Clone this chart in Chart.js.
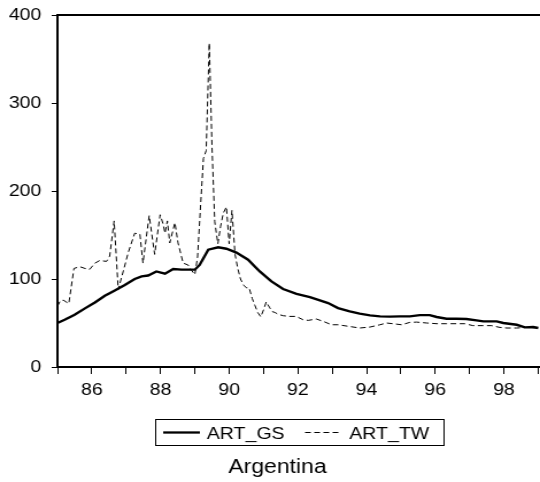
<!DOCTYPE html>
<html>
<head>
<meta charset="utf-8">
<script src="https://cdn.jsdelivr.net/npm/chart.js@4.4.1/dist/chart.umd.min.js"></script>
<style>
  html, body { margin: 0; padding: 0; background: #fff; }
  /* the original graph is a 470px wide export stretched to 540px */
  #artChart { width: 540px; height: 482px; display: block; }
</style>
</head>
<body>
<canvas id="artChart" width="470" height="482" style="width:540px;height:482px"></canvas>
<script>
// Argentina, readings
const gsYears = [1985.00, 1985.21, 1985.50, 1985.80, 1986.09, 1986.38, 1986.67, 1986.96, 1987.25, 1987.45,
  1987.64, 1987.88, 1988.13, 1988.37, 1988.61, 1988.90, 1989.00, 1989.14, 1989.39, 1989.68,
  1989.92, 1990.21, 1990.55, 1990.89, 1991.23, 1991.57, 1991.96, 1992.35, 1992.64, 1992.88,
  1993.17, 1993.51, 1993.80, 1994.10, 1994.39, 1994.68, 1994.97, 1995.26, 1995.55, 1995.84,
  1996.04, 1996.33, 1996.62, 1996.91, 1997.20, 1997.40, 1997.79, 1997.98, 1998.37, 1998.61,
  1998.85, 1999.00];
const gsValues = [50, 53.7, 59.4, 66.6, 73.4, 81, 87, 93.2, 100, 103,
  104, 108.6, 106, 111.4, 110.6, 110.6, 110.6, 116, 133.3, 136,
  134.4, 130, 122, 108.6, 97.3, 88.6, 83, 79.5, 75.7, 72.7,
  67, 63.2, 60.6, 58.6, 57.5, 57.2, 57.5, 57.5, 59, 59,
  56.8, 54.9, 54.9, 54.5, 53, 51.8, 51.8, 50, 48, 45,
  45.4, 44.3];

const twYears = [1985.00, 1985.08, 1985.17, 1985.33, 1985.48, 1985.65, 1985.80, 1985.94, 1986.09, 1986.23,
  1986.43, 1986.52, 1986.65, 1986.77, 1986.91, 1987.06, 1987.25, 1987.40, 1987.49, 1987.67,
  1987.83, 1987.99, 1988.08, 1988.13, 1988.20, 1988.27, 1988.42, 1988.51, 1988.66, 1988.80,
  1988.90, 1989.00, 1989.08, 1989.17, 1989.25, 1989.33, 1989.42, 1989.50, 1989.58, 1989.67,
  1989.75, 1989.83, 1989.92, 1990.00, 1990.08, 1990.17, 1990.25, 1990.33, 1990.42, 1990.50,
  1990.58, 1990.67, 1990.75, 1990.83, 1990.92, 1991.00, 1991.08, 1991.17, 1991.25, 1991.33,
  1991.42, 1991.57, 1991.75, 1991.95, 1992.15, 1992.30, 1992.54, 1992.74, 1992.98, 1993.17,
  1993.51, 1993.80, 1994.10, 1994.39, 1994.58, 1994.83, 1995.02, 1995.26, 1995.46, 1995.75,
  1996.04, 1996.33, 1996.62, 1996.86, 1997.10, 1997.40, 1997.64, 1997.88, 1998.08, 1998.37,
  1998.67, 1998.96];
const twValues = [69, 75, 76, 72, 112, 114, 112, 111, 118, 121,
  120, 126, 166, 88, 108, 130, 152, 151, 118, 172,
  128, 173, 162, 152, 166, 141, 164, 141, 118, 116,
  110, 105, 125, 185, 237, 246, 368, 250, 165, 140,
  160, 175, 182, 140, 178, 128, 112, 100, 93, 90,
  90, 78, 70, 62, 57, 65, 74, 68, 63, 62,
  60, 58.3, 57.5, 57.5, 53.7, 53, 54.5, 51.8, 48, 48,
  46, 44.3, 45.4, 48, 50, 48.9, 48, 50.7, 51, 50,
  49.2, 49.2, 49.2, 49.2, 47, 47, 47, 45, 44.3, 44.3,
  45, 44.3];

const xTickYears = [1985, 1986, 1987, 1988, 1989, 1990, 1991, 1992, 1993, 1994, 1995, 1996, 1997, 1998, 1999];
const xTickLabels = ['', '86', '', '88', '', '90', '', '92', '', '94', '', '96', '', '98', ''];
const yTicks = [0, 100, 200, 300, 400];

const seriesNames = ['ART_GS', 'ART_TW'];
const chartTitle = 'Argentina';

const FONT = "'Liberation Sans', Arial, sans-serif";

const toPoints = (xs, ys) => xs.map((x, i) => ({ x: x, y: ys[i] }));

// top frame line, boxed legend and the caption underneath
const framePlugin = {
  id: 'frame',
  afterDraw(chart) {
    const ctx = chart.ctx;
    const area = chart.chartArea;
    ctx.save();
    ctx.strokeStyle = '#000';
    ctx.fillStyle = '#000';
    ctx.lineWidth = 2;
    ctx.beginPath();
    ctx.moveTo(area.left - 1, area.top);
    ctx.lineTo(area.right, area.top);
    ctx.stroke();

    // legend box
    ctx.lineWidth = 1;
    ctx.strokeRect(135.5, 419.5, 251, 26);
    ctx.font = '17px ' + FONT;
    ctx.textBaseline = 'alphabetic';
    ctx.textAlign = 'left';

    ctx.lineWidth = 2.3;
    ctx.beginPath();
    ctx.moveTo(142, 432.5);
    ctx.lineTo(174, 432.5);
    ctx.stroke();
    ctx.fillText(seriesNames[0], 180, 439);

    ctx.lineWidth = 1;
    ctx.setLineDash([5, 3]);
    ctx.beginPath();
    ctx.moveTo(265.5, 432.5);
    ctx.lineTo(295.5, 432.5);
    ctx.stroke();
    ctx.setLineDash([]);
    ctx.fillText(seriesNames[1], 304, 439);

    ctx.font = '20px ' + FONT;
    ctx.textAlign = 'center';
    ctx.fillText(chartTitle, 241.5, 473);
    ctx.restore();
  }
};

new Chart(document.getElementById('artChart'), {
  type: 'line',
  data: {
    datasets: [
      {
        label: seriesNames[0],
        data: toPoints(gsYears, gsValues),
        borderColor: '#000',
        borderWidth: 2.4,
        pointRadius: 0,
        tension: 0,
        fill: false
      },
      {
        label: seriesNames[1],
        data: toPoints(twYears, twValues),
        borderColor: '#000',
        borderWidth: 1,
        borderDash: [5, 3],
        pointRadius: 0,
        tension: 0,
        fill: false
      }
    ]
  },
  options: {
    responsive: false,
    animation: false,
    devicePixelRatio: 1,
    layout: { padding: { top: 15, right: 0, bottom: 0, left: 0 } },
    plugins: {
      legend: { display: false },
      title: { display: false },
      tooltip: { enabled: false }
    },
    scales: {
      x: {
        type: 'linear',
        min: 1985,
        max: 1999.05,
        afterFit: (scale) => {
          scale.height = 115;
          scale.paddingLeft = 0;
          scale.paddingRight = 0;
        },
        afterBuildTicks: (scale) => { scale.ticks = xTickYears.map(v => ({ value: v })); },
        grid: {
          drawOnChartArea: false,
          drawTicks: true,
          tickLength: 7,
          color: '#000',
          lineWidth: 1
        },
        border: { display: true, color: '#000', width: 2 },
        ticks: {
          autoSkip: false,
          maxRotation: 0,
          padding: 6,
          color: '#000',
          font: { family: FONT, size: 17 },
          callback: (value) => {
            const i = xTickYears.indexOf(value);
            return i >= 0 ? xTickLabels[i] : '';
          }
        }
      },
      y: {
        min: 0,
        max: 400,
        afterFit: (scale) => {
          scale.width = 50;
          // keep the plot top at the layout padding, not label padding
          scale.paddingTop = 0;
          scale.paddingBottom = 0;
        },
        afterBuildTicks: (scale) => { scale.ticks = yTicks.map(v => ({ value: v })); },
        grid: {
          drawOnChartArea: false,
          drawTicks: true,
          tickLength: 5,
          color: '#000',
          lineWidth: 1
        },
        border: { display: true, color: '#000', width: 2 },
        ticks: {
          padding: 9,
          color: '#000',
          font: { family: FONT, size: 17 }
        }
      }
    }
  },
  plugins: [framePlugin]
});
</script>
</body>
</html>
